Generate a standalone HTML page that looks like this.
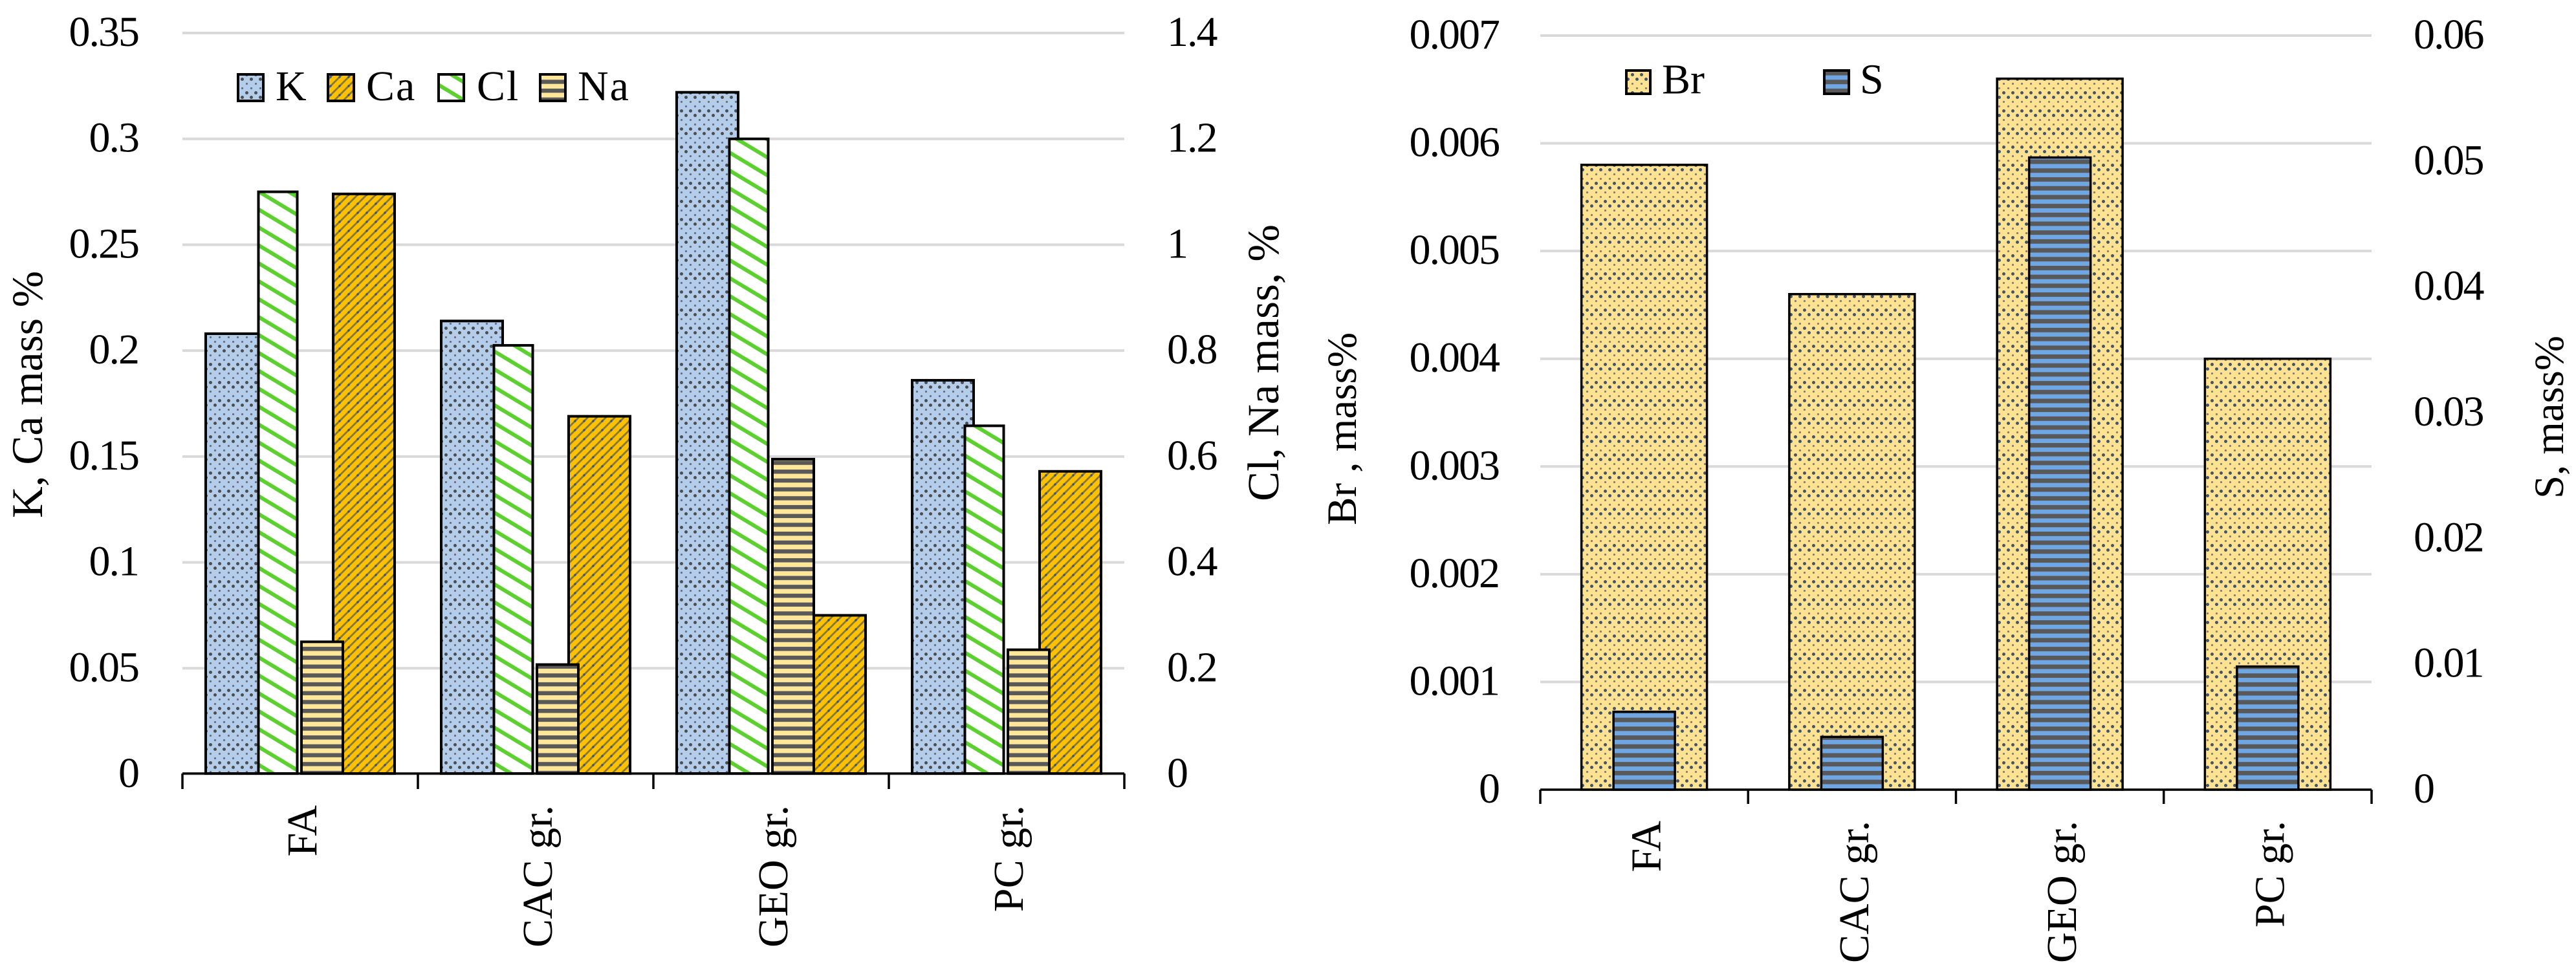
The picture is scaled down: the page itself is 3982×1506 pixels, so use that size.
<!DOCTYPE html>
<html lang="en">
<head>
<meta charset="utf-8">
<title>Element mass percent charts</title>
<style>
html,body{margin:0;padding:0;background:#fff;width:3982px;height:1506px;overflow:hidden}
svg{display:block}
text{font-family:"Liberation Serif",serif;fill:#000;font-size:66px}
.tick{letter-spacing:-2px}
.legend-text{letter-spacing:2px}
</style>
</head>
<body>
<svg id="figure" xmlns="http://www.w3.org/2000/svg" width="3982" height="1506" viewBox="0 0 3982 1506">
  <defs>
    <pattern id="p-k" patternUnits="userSpaceOnUse" width="14" height="28">
      <rect width="14" height="28" fill="#b4cdea"/>
      <circle cx="3.5" cy="3.5" r="2.5" fill="#4d4d4d"/>
      <circle cx="10.5" cy="10.5" r="2.5" fill="#4d4d4d"/>
      <circle cx="3.5" cy="17.5" r="1.6" fill="#66717f"/>
      <circle cx="10.5" cy="24.5" r="1.6" fill="#66717f"/>
    </pattern>
    <pattern id="p-br" patternUnits="userSpaceOnUse" width="14" height="28">
      <rect width="14" height="28" fill="#ffe393"/>
      <circle cx="3.5" cy="3.5" r="2.5" fill="#44546a"/>
      <circle cx="10.5" cy="10.5" r="2.5" fill="#44546a"/>
      <circle cx="3.5" cy="17.5" r="1.6" fill="#85806a"/>
      <circle cx="10.5" cy="24.5" r="1.6" fill="#85806a"/>
    </pattern>
    <pattern id="p-ca" patternUnits="userSpaceOnUse" width="14" height="14">
      <rect width="14" height="14" fill="#ffc000"/>
      <path d="M-7 7L7 -7M0 14L14 0M7 21L21 7" stroke="#857838" stroke-width="2.8" fill="none"/>
      <circle cx="7" cy="7" r="1.7" fill="#2f5597"/>
    </pattern>
    <pattern id="p-cl" patternUnits="userSpaceOnUse" width="46" height="27.7">
      <rect width="46" height="27.7" fill="#fff"/>
      <path d="M-46 -27.7L92 55.4M-46 0L46 55.4M0 -27.7L92 27.7" stroke="#5bd02f" stroke-width="6" fill="none"/>
    </pattern>
    <pattern id="p-na" patternUnits="userSpaceOnUse" width="14" height="13.7">
      <rect width="14" height="13.7" fill="#ffe699"/>
      <rect y="0" width="14" height="6.4" fill="#595959"/>
    </pattern>
    <pattern id="p-s" patternUnits="userSpaceOnUse" width="14" height="13.7">
      <rect width="14" height="13.7" fill="#6fa6e4"/>
      <rect y="0" width="14" height="6.9" fill="#595959"/>
    </pattern>
  </defs>
  <g id="left-chart"></g>
  <g id="right-chart"></g>
</svg>
<script>
const categories = ['FA', 'CAC gr.', 'GEO gr.', 'PC gr.'];
const kValues = [0.208, 0.214, 0.322, 0.186];
const caValues = [0.274, 0.169, 0.075, 0.143];
const clValues = [1.1, 0.81, 1.2, 0.658];
const naValues = [0.25, 0.207, 0.595, 0.235];
const brValues = [0.0058, 0.0046, 0.0066, 0.004];
const sValues = [0.0062, 0.0042, 0.0503, 0.0098];
const leftPrimaryTicks = [0, 0.05, 0.1, 0.15, 0.2, 0.25, 0.3, 0.35];
const leftSecondaryTicks = [0, 0.2, 0.4, 0.6, 0.8, 1, 1.2, 1.4];
const rightPrimaryTicks = [0, 0.001, 0.002, 0.003, 0.004, 0.005, 0.006, 0.007];
const rightSecondaryTicks = [0, 0.01, 0.02, 0.03, 0.04, 0.05, 0.06];

const NS = 'http://www.w3.org/2000/svg';
function mk(tag, attrs, parent, txt) {
  const el = document.createElementNS(NS, tag);
  for (const k in attrs) el.setAttribute(k, attrs[k]);
  if (txt !== undefined) el.textContent = txt;
  parent.appendChild(el);
  return el;
}

const leftG = document.getElementById('left-chart');
const rightG = document.getElementById('right-chart');

const L = {x0: 282, x1: 1738, base: 1197, top: 51, axisY: 1196, tickEnd: 1220, catTop: 1245};
const R = {x0: 2381, x1: 3666, base: 1221, top: 55, axisY: 1221, tickEnd: 1243, catTop: 1269};

const yLP = v => L.base - v / 0.35 * (L.base - L.top);
const yLS = v => L.base - v / 1.4 * (L.base - L.top);
const yRP = v => R.base - v / 0.007 * (R.base - R.top);
const yRS = v => R.base - v / 0.06 * (R.base - R.top);
const cL = i => L.x0 + (i + 0.5) * (L.x1 - L.x0) / categories.length;
const cR = i => R.x0 + (i + 0.5) * (R.x1 - R.x0) / categories.length;

// gridlines
leftPrimaryTicks.forEach(v => {
  const el = mk('line', {x1: L.x0, x2: L.x1, y1: yLP(v), y2: yLP(v), stroke: '#d9d9d9', 'stroke-width': 4}, leftG);
  
  
});
rightPrimaryTicks.forEach(v => {
  const el = mk('line', {x1: R.x0, x2: R.x1, y1: yRP(v), y2: yRP(v), stroke: '#d9d9d9', 'stroke-width': 4}, rightG);
  
  
});

// bars
function bar(parent, name, pat, a, b, yTop, base, sw) {
  const el = mk('rect', {x: a, y: yTop, width: b - a, height: Math.max(0, base - yTop), fill: 'url(#' + pat + ')', stroke: '#000', 'stroke-width': sw}, parent);
  
  
  return el;
}
categories.forEach((c, i) => {
  bar(leftG, 'bar-k', 'p-k', cL(i) - 146, cL(i) - 51, yLP(kValues[i]), L.axisY, 4);
  bar(leftG, 'bar-ca', 'p-ca', cL(i) + 51, cL(i) + 146, yLP(caValues[i]), L.axisY, 4);
});
categories.forEach((c, i) => {
  bar(leftG, 'bar-cl', 'p-cl', cL(i) - 64.5, cL(i) - 4.5, yLS(clValues[i]), L.axisY, 4);
  bar(leftG, 'bar-na', 'p-na', cL(i) + 2, cL(i) + 66, yLS(naValues[i]), L.axisY, 4);
});
categories.forEach((c, i) => {
  bar(rightG, 'bar-br', 'p-br', cR(i) - 97, cR(i) + 97, yRP(brValues[i]), R.axisY, 3.5);
});
categories.forEach((c, i) => {
  bar(rightG, 'bar-s', 'p-s', cR(i) - 47.5, cR(i) + 47.5, yRS(sValues[i]), R.axisY, 3.5);
});

// x axes and ticks
const leftAxis = mk('line', {x1: L.x0, x2: L.x1, y1: L.axisY, y2: L.axisY, stroke: '#000', 'stroke-width': 3.5}, leftG);


const rightAxis = mk('line', {x1: R.x0, x2: R.x1, y1: R.axisY, y2: R.axisY, stroke: '#000', 'stroke-width': 3.5}, rightG);


for (let i = 0; i <= categories.length; i++) {
  const xl = L.x0 + i * (L.x1 - L.x0) / categories.length;
  const tl = mk('line', {x1: xl, x2: xl, y1: L.axisY, y2: L.tickEnd, stroke: '#000', 'stroke-width': 3.5}, leftG);
  
  
  const xr = R.x0 + i * (R.x1 - R.x0) / categories.length;
  const tr = mk('line', {x1: xr, x2: xr, y1: R.axisY, y2: R.tickEnd, stroke: '#000', 'stroke-width': 3.5}, rightG);
  
  
}

// category labels
categories.forEach((c, i) => {
  const xl = cL(i) + 25;
  const a = mk('text', {x: xl, y: L.catTop, 'text-anchor': 'end', transform: 'rotate(-90 ' + xl + ' ' + L.catTop + ')'}, leftG, c);
  
  
  const xr = cR(i) + 25;
  const b = mk('text', {x: xr, y: R.catTop, 'text-anchor': 'end', transform: 'rotate(-90 ' + xr + ' ' + R.catTop + ')'}, rightG, c);
  
  
});

// value tick labels
leftPrimaryTicks.forEach(v => {
  const el = mk('text', {x: 214, y: yLP(v) + 20, 'text-anchor': 'end', class: 'tick'}, leftG, String(v));
  
  
});
leftSecondaryTicks.forEach(v => {
  const el = mk('text', {x: 1804, y: yLS(v) + 20, class: 'tick'}, leftG, String(v));
  
  
});
rightPrimaryTicks.forEach(v => {
  const el = mk('text', {x: 2317, y: yRP(v) + 20, 'text-anchor': 'end', class: 'tick'}, rightG, String(v));
  
  
});
rightSecondaryTicks.forEach(v => {
  const el = mk('text', {x: 3731, y: yRS(v) + 20, class: 'tick'}, rightG, String(v));
  
  
});

// axis titles
function title(parent, str, x, yBottom, size, len) {
  return mk('text', {x: x, y: yBottom, transform: 'rotate(-90 ' + x + ' ' + yBottom + ')', 'font-size': size, style: 'font-size:' + size + 'px', textLength: len, lengthAdjust: 'spacingAndGlyphs'}, parent, str);
}
const t1 = title(leftG, 'K, Ca mass %', 65, 801, 67.5, 382);


const t2 = title(leftG, 'Cl, Na mass, %', 1976, 775, 69, 428);


const t3 = title(rightG, 'Br , mass%', 2096, 812, 65, 298);


const t4 = title(rightG, 'S, mass%', 3962, 771, 65, 252);



// legends
function swatch(parent, pat, x, y, w, h) {
  return mk('rect', {x: x, y: y, width: w, height: h, fill: 'url(#' + pat + ')', stroke: '#000', 'stroke-width': 4}, parent);
}
const legendLeft = mk('g', {}, leftG);


const legendRight = mk('g', {}, rightG);



const sK = swatch(legendLeft, 'p-k', 368, 115, 39, 41);


const tK = mk('text', {x: 426, y: 155, class: 'legend-text'}, legendLeft, 'K');


const sCa = swatch(legendLeft, 'p-ca', 507, 115, 40, 41);


const tCa = mk('text', {x: 566, y: 155, class: 'legend-text'}, legendLeft, 'Ca');


const sCl = swatch(legendLeft, 'p-cl', 678, 115, 39, 41);


const tCl = mk('text', {x: 737, y: 155, class: 'legend-text'}, legendLeft, 'Cl');


const sNa = swatch(legendLeft, 'p-na', 835, 115, 39, 41);


const tNa = mk('text', {x: 893, y: 155, class: 'legend-text'}, legendLeft, 'Na');


const sBr = swatch(legendRight, 'p-br', 2514, 109, 37, 36);


const tBr = mk('text', {x: 2569, y: 144.5}, legendRight, 'Br');


const sS = swatch(legendRight, 'p-s', 2820, 109, 38, 36);


const tS = mk('text', {x: 2875, y: 144.5}, legendRight, 'S');


</script>
</body>
</html>
